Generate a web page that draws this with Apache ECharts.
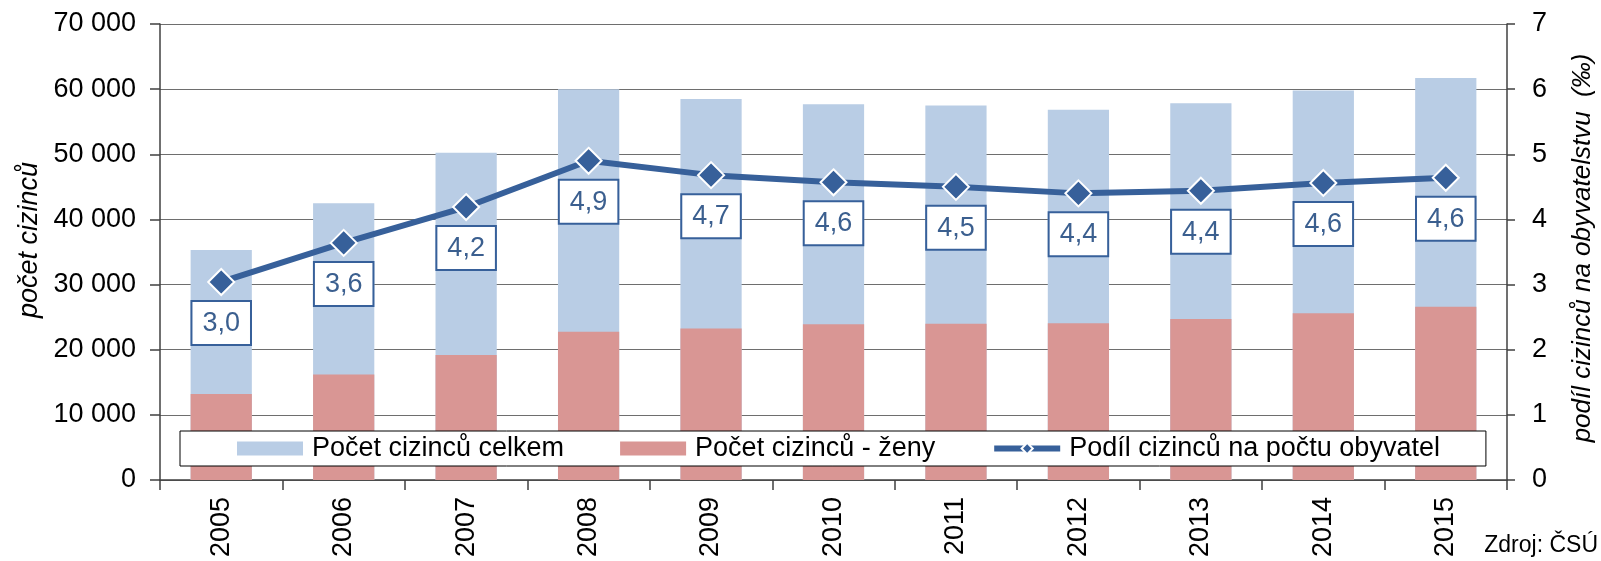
<!DOCTYPE html>
<html>
<head>
<meta charset="utf-8">
<title>Cizinci</title>
<script src="https://cdn.jsdelivr.net/npm/echarts@6/dist/echarts.min.js"></script>
<style>
  html, body { margin: 0; padding: 0; background: #fff; }
  #chart { width: 1601px; height: 561px; }
</style>
</head>
<body>
<div id="chart"></div>
<script>
// roky
var years = ["2005", "2006", "2007", "2008", "2009", "2010", "2011", "2012", "2013", "2014", "2015"];
// počet cizinců celkem
var celkem = [35300, 42500, 50250, 60000, 58500, 57700, 57500, 56850, 57850, 59800, 61700];
// počet cizinců - ženy
var zeny = [13200, 16200, 19200, 22750, 23250, 23900, 24000, 24050, 24700, 25600, 26600];
// podíl cizinců na počtu obyvatel (‰)
var podil = [3.04, 3.64, 4.19, 4.90, 4.68, 4.57, 4.50, 4.40, 4.44, 4.56, 4.64];

var font = "Liberation Sans";
var lineColor = "#37609a";

var myChart = echarts.init(document.getElementById("chart"));

var option = {
  animation: false,
  textStyle: { fontFamily: font },
  grid: {
    left: 160,
    right: 94,
    top: 24,
    bottom: 81
  },
  legend: {
    left: 180,
    top: 431,
    padding: [4, 46, 4, 57],
    itemGap: 56,
    itemWidth: 66,
    itemHeight: 14,
    backgroundColor: "#fff",
    borderColor: "#000",
    borderWidth: 1,
    borderRadius: 0,
    textStyle: { fontSize: 27, color: "#000", fontFamily: font, padding: [0, 0, 0, 4] },
    data: [
      { name: "Počet cizinců celkem", icon: "rect" },
      { name: "Počet cizinců - ženy", icon: "rect" },
      { name: "Podíl cizinců na počtu obyvatel", lineStyle: { width: 6 } }
    ]
  },
  xAxis: {
    type: "category",
    data: years,
    axisLine: { lineStyle: { color: "#404040", width: 1.5 } },
    axisTick: { show: true, length: 10, lineStyle: { color: "#404040", width: 1.5 } },
    axisLabel: {
      rotate: 90,
      fontSize: 27,
      color: "#000",
      margin: 17,
      interval: 0
    }
  },
  yAxis: [
    {
      type: "value",
      min: 0,
      max: 70000,
      interval: 10000,
      axisLine: { show: true, lineStyle: { color: "#404040", width: 1.5 } },
      axisTick: { show: true, length: 10, lineStyle: { color: "#404040", width: 1.5 } },
      splitLine: { lineStyle: { color: "#6e6e6e", width: 1.2 } },
      axisLabel: {
        fontSize: 27,
        color: "#000",
        margin: 24,
        formatter: function (v) {
          return String(v).replace(/\B(?=(\d{3})+(?!\d))/g, " ");
        }
      }
    },
    {
      type: "value",
      min: 0,
      max: 7,
      interval: 1,
      position: "right",
      axisLine: { show: true, lineStyle: { color: "#404040", width: 1.5 } },
      axisTick: { show: true, length: 8, lineStyle: { color: "#404040", width: 1.5 } },
      splitLine: { show: false },
      axisLabel: { fontSize: 27, color: "#000", margin: 25 }
    }
  ],
  graphic: [
    {
      type: "text",
      rotation: Math.PI / 2,
      x: 29,
      y: 240,
      style: {
        text: "počet cizinců",
        font: "italic 27px " + font,
        fill: "#000",
        textAlign: "center",
        textVerticalAlign: "middle"
      }
    },
    {
      type: "text",
      rotation: Math.PI / 2,
      x: 1583,
      y: 248,
      style: {
        text: "podíl cizinců na obyvatelstvu  (‰)",
        font: "italic 26px " + font,
        fill: "#000",
        textAlign: "center",
        textVerticalAlign: "middle"
      }
    },
    {
      type: "text",
      right: 3,
      top: 534,
      style: {
        text: "Zdroj: ČSÚ",
        font: "23px " + font,
        fill: "#000"
      }
    }
  ],
  series: [
    {
      name: "Počet cizinců celkem",
      type: "bar",
      barWidth: "50%",
      barGap: "-100%",
      itemStyle: { color: "#b9cde5" },
      data: celkem
    },
    {
      name: "Počet cizinců - ženy",
      type: "bar",
      barWidth: "50%",
      itemStyle: { color: "#d99694" },
      data: zeny
    },
    {
      name: "Podíl cizinců na počtu obyvatel",
      type: "line",
      yAxisIndex: 1,
      z: 5,
      symbol: "diamond",
      symbolSize: 26,
      lineStyle: { color: lineColor, width: 6 },
      itemStyle: { color: lineColor, borderColor: "#fff", borderWidth: 2 },
      label: {
        show: true,
        position: "bottom",
        distance: 6,
        fontSize: 27,
        color: "#3b5f8f",
        backgroundColor: "#fff",
        borderColor: lineColor,
        borderWidth: 2,
        padding: [8, 10, 7, 10],
        formatter: function (p) {
          return p.value.toFixed(1).replace(".", ",");
        }
      },
      data: podil
    }
  ]
};

myChart.setOption(option, true);
</script>
</body>
</html>
